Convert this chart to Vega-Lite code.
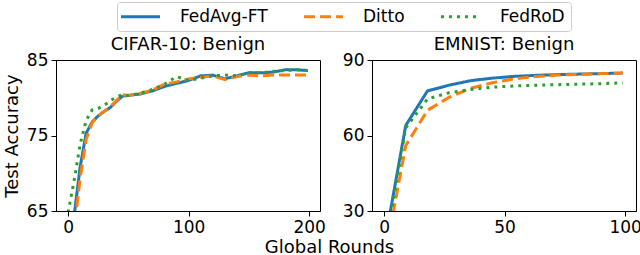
{
  "$schema": "https://vega.github.io/schema/vega-lite/v6.json",
  "background": "white",
  "padding": {"left": 2, "top": 1, "right": 0, "bottom": 1},
  "autosize": {"type": "pad"},
  "bounds": "flush",
  "spacing": 52,
  "config": {
    "font": "DejaVu Sans",
    "view": {"stroke": "black", "strokeWidth": 1},
    "axis": {
      "grid": false,
      "domainColor": "black",
      "tickColor": "black",
      "tickSize": 5,
      "labelColor": "black",
      "titleColor": "black",
      "labelFontSize": 17,
      "titleFontSize": 18,
      "titleFontWeight": "normal",
      "labelPadding": 3
    },
    "title": {"fontSize": 18, "fontWeight": "normal", "color": "black", "offset": -3},
    "legend": {
      "orient": "none",
      "legendX": 61,
      "legendY": -58,
      "direction": "horizontal",
      "symbolType": "M-3.25,0H3.25",
      "symbolSize": 144,
      "symbolOffset": 9,
      "symbolStrokeWidth": 3,
      "labelFontSize": 17,
      "labelColor": "black",
      "labelOffset": 31,
      "columnPadding": 30,
      "padding": 6,
      "strokeColor": "#cccccc",
      "cornerRadius": 3,
      "fillColor": "white"
    }
  },
  "datasets": {
    "cifar": [
      {"method": "FedAvg-FT", "round": 0, "acc": 40},
      {"method": "FedAvg-FT", "round": 5, "acc": 64.3},
      {"method": "FedAvg-FT", "round": 10, "acc": 70.8},
      {"method": "FedAvg-FT", "round": 15, "acc": 75.3},
      {"method": "FedAvg-FT", "round": 20, "acc": 76.8},
      {"method": "FedAvg-FT", "round": 25, "acc": 77.6},
      {"method": "FedAvg-FT", "round": 30, "acc": 78.2},
      {"method": "FedAvg-FT", "round": 35, "acc": 78.7},
      {"method": "FedAvg-FT", "round": 40, "acc": 79.5},
      {"method": "FedAvg-FT", "round": 45, "acc": 80.2},
      {"method": "FedAvg-FT", "round": 50, "acc": 80.3},
      {"method": "FedAvg-FT", "round": 60, "acc": 80.5},
      {"method": "FedAvg-FT", "round": 70, "acc": 80.9},
      {"method": "FedAvg-FT", "round": 80, "acc": 81.5},
      {"method": "FedAvg-FT", "round": 90, "acc": 81.9},
      {"method": "FedAvg-FT", "round": 100, "acc": 82.3},
      {"method": "FedAvg-FT", "round": 110, "acc": 82.9},
      {"method": "FedAvg-FT", "round": 120, "acc": 83.0},
      {"method": "FedAvg-FT", "round": 130, "acc": 82.5},
      {"method": "FedAvg-FT", "round": 140, "acc": 82.9},
      {"method": "FedAvg-FT", "round": 150, "acc": 83.3},
      {"method": "FedAvg-FT", "round": 160, "acc": 83.3},
      {"method": "FedAvg-FT", "round": 170, "acc": 83.4},
      {"method": "FedAvg-FT", "round": 180, "acc": 83.7},
      {"method": "FedAvg-FT", "round": 190, "acc": 83.7},
      {"method": "FedAvg-FT", "round": 199, "acc": 83.6},
      {"method": "Ditto", "round": 0, "acc": 38},
      {"method": "Ditto", "round": 5, "acc": 62.5},
      {"method": "Ditto", "round": 10, "acc": 69.3},
      {"method": "Ditto", "round": 15, "acc": 74.5},
      {"method": "Ditto", "round": 20, "acc": 76.7},
      {"method": "Ditto", "round": 25, "acc": 77.6},
      {"method": "Ditto", "round": 30, "acc": 78.2},
      {"method": "Ditto", "round": 35, "acc": 78.8},
      {"method": "Ditto", "round": 40, "acc": 79.6},
      {"method": "Ditto", "round": 45, "acc": 80.4},
      {"method": "Ditto", "round": 50, "acc": 80.3},
      {"method": "Ditto", "round": 60, "acc": 80.6},
      {"method": "Ditto", "round": 70, "acc": 81.0},
      {"method": "Ditto", "round": 80, "acc": 81.8},
      {"method": "Ditto", "round": 90, "acc": 82.1},
      {"method": "Ditto", "round": 100, "acc": 82.5},
      {"method": "Ditto", "round": 110, "acc": 82.7},
      {"method": "Ditto", "round": 120, "acc": 82.9},
      {"method": "Ditto", "round": 130, "acc": 82.4},
      {"method": "Ditto", "round": 140, "acc": 82.8},
      {"method": "Ditto", "round": 150, "acc": 83.0},
      {"method": "Ditto", "round": 160, "acc": 82.9},
      {"method": "Ditto", "round": 170, "acc": 83.0},
      {"method": "Ditto", "round": 180, "acc": 83.0},
      {"method": "Ditto", "round": 190, "acc": 83.0},
      {"method": "Ditto", "round": 199, "acc": 83.0},
      {"method": "FedRoD", "round": 0, "acc": 64.8},
      {"method": "FedRoD", "round": 5, "acc": 69.0},
      {"method": "FedRoD", "round": 10, "acc": 73.8},
      {"method": "FedRoD", "round": 15, "acc": 77.0},
      {"method": "FedRoD", "round": 20, "acc": 78.4},
      {"method": "FedRoD", "round": 25, "acc": 78.6},
      {"method": "FedRoD", "round": 30, "acc": 79.0},
      {"method": "FedRoD", "round": 35, "acc": 79.6},
      {"method": "FedRoD", "round": 40, "acc": 80.1},
      {"method": "FedRoD", "round": 45, "acc": 80.4},
      {"method": "FedRoD", "round": 50, "acc": 80.3},
      {"method": "FedRoD", "round": 60, "acc": 80.6},
      {"method": "FedRoD", "round": 70, "acc": 81.1},
      {"method": "FedRoD", "round": 80, "acc": 81.8},
      {"method": "FedRoD", "round": 90, "acc": 82.8},
      {"method": "FedRoD", "round": 100, "acc": 82.3},
      {"method": "FedRoD", "round": 110, "acc": 82.6},
      {"method": "FedRoD", "round": 120, "acc": 82.9},
      {"method": "FedRoD", "round": 130, "acc": 83.0},
      {"method": "FedRoD", "round": 140, "acc": 82.9},
      {"method": "FedRoD", "round": 150, "acc": 83.3},
      {"method": "FedRoD", "round": 160, "acc": 83.3},
      {"method": "FedRoD", "round": 170, "acc": 83.5},
      {"method": "FedRoD", "round": 180, "acc": 83.6},
      {"method": "FedRoD", "round": 190, "acc": 83.7},
      {"method": "FedRoD", "round": 199, "acc": 83.6}
    ],
    "emnist": [
      {"method": "FedAvg-FT", "round": 0, "acc": 16},
      {"method": "FedAvg-FT", "round": 9, "acc": 64},
      {"method": "FedAvg-FT", "round": 18, "acc": 77.7},
      {"method": "FedAvg-FT", "round": 27, "acc": 80.0},
      {"method": "FedAvg-FT", "round": 36, "acc": 81.8},
      {"method": "FedAvg-FT", "round": 45, "acc": 82.8},
      {"method": "FedAvg-FT", "round": 54, "acc": 83.5},
      {"method": "FedAvg-FT", "round": 63, "acc": 83.9},
      {"method": "FedAvg-FT", "round": 72, "acc": 84.2},
      {"method": "FedAvg-FT", "round": 81, "acc": 84.4},
      {"method": "FedAvg-FT", "round": 90, "acc": 84.6},
      {"method": "FedAvg-FT", "round": 99, "acc": 84.8},
      {"method": "Ditto", "round": 0, "acc": 10},
      {"method": "Ditto", "round": 9, "acc": 56},
      {"method": "Ditto", "round": 18, "acc": 70},
      {"method": "Ditto", "round": 27, "acc": 75.2},
      {"method": "Ditto", "round": 36, "acc": 78.8},
      {"method": "Ditto", "round": 45, "acc": 81.0},
      {"method": "Ditto", "round": 54, "acc": 82.5},
      {"method": "Ditto", "round": 63, "acc": 83.4},
      {"method": "Ditto", "round": 72, "acc": 84.0},
      {"method": "Ditto", "round": 81, "acc": 84.3},
      {"method": "Ditto", "round": 90, "acc": 84.6},
      {"method": "Ditto", "round": 99, "acc": 84.8},
      {"method": "FedRoD", "round": 0, "acc": 13},
      {"method": "FedRoD", "round": 9, "acc": 63},
      {"method": "FedRoD", "round": 18, "acc": 74.5},
      {"method": "FedRoD", "round": 27, "acc": 77.0},
      {"method": "FedRoD", "round": 36, "acc": 78.3},
      {"method": "FedRoD", "round": 45, "acc": 79.2},
      {"method": "FedRoD", "round": 54, "acc": 79.7},
      {"method": "FedRoD", "round": 63, "acc": 80.0},
      {"method": "FedRoD", "round": 72, "acc": 80.2},
      {"method": "FedRoD", "round": 81, "acc": 80.4},
      {"method": "FedRoD", "round": 90, "acc": 80.6},
      {"method": "FedRoD", "round": 99, "acc": 80.9}
    ]
  },
  "hconcat": [
    {
      "width": 264,
      "height": 151,
      "data": {"name": "cifar"},
      "title": "CIFAR-10: Benign",
      "mark": {"type": "line", "strokeWidth": 3, "clip": true, "strokeJoin": "round"},
      "encoding": {
        "x": {"field": "round", "type": "quantitative",
          "scale": {"domain": [-10, 209], "nice": false, "zero": false},
          "axis": {"values": [0, 100, 200], "title": "Global Rounds", "titleX": 273, "titleAlign": "center", "titlePadding": 3}},
        "y": {"field": "acc", "type": "quantitative",
          "scale": {"domain": [65, 85], "nice": false, "zero": false},
          "axis": {"values": [65, 75, 85], "title": "Test Accuracy", "titlePadding": 5}},
        "color": {"field": "method", "type": "nominal",
          "scale": {"domain": ["FedAvg-FT", "Ditto", "FedRoD"], "range": ["#1f77b4", "#ff7f0e", "#2ca02c"]},
          "legend": {"title": null}},
        "strokeDash": {"field": "method", "type": "nominal",
          "scale": {"domain": ["FedAvg-FT", "Ditto", "FedRoD"], "range": [[1, 0], [11, 5], [3, 5]]},
          "legend": {"title": null}}
      }
    },
    {
      "width": 264,
      "height": 151,
      "data": {"name": "emnist"},
      "title": "EMNIST: Benign",
      "mark": {"type": "line", "strokeWidth": 3, "clip": true, "strokeJoin": "round"},
      "encoding": {
        "x": {"field": "round", "type": "quantitative",
          "scale": {"domain": [-5, 104.5], "nice": false, "zero": false},
          "axis": {"values": [0, 50, 100], "title": null}},
        "y": {"field": "acc", "type": "quantitative",
          "scale": {"domain": [30, 90], "nice": false, "zero": false},
          "axis": {"values": [30, 60, 90], "title": null}},
        "color": {"field": "method", "type": "nominal",
          "scale": {"domain": ["FedAvg-FT", "Ditto", "FedRoD"], "range": ["#1f77b4", "#ff7f0e", "#2ca02c"]},
          "legend": {"title": null}},
        "strokeDash": {"field": "method", "type": "nominal",
          "scale": {"domain": ["FedAvg-FT", "Ditto", "FedRoD"], "range": [[1, 0], [11, 5], [3, 5]]},
          "legend": {"title": null}}
      }
    }
  ]
}
